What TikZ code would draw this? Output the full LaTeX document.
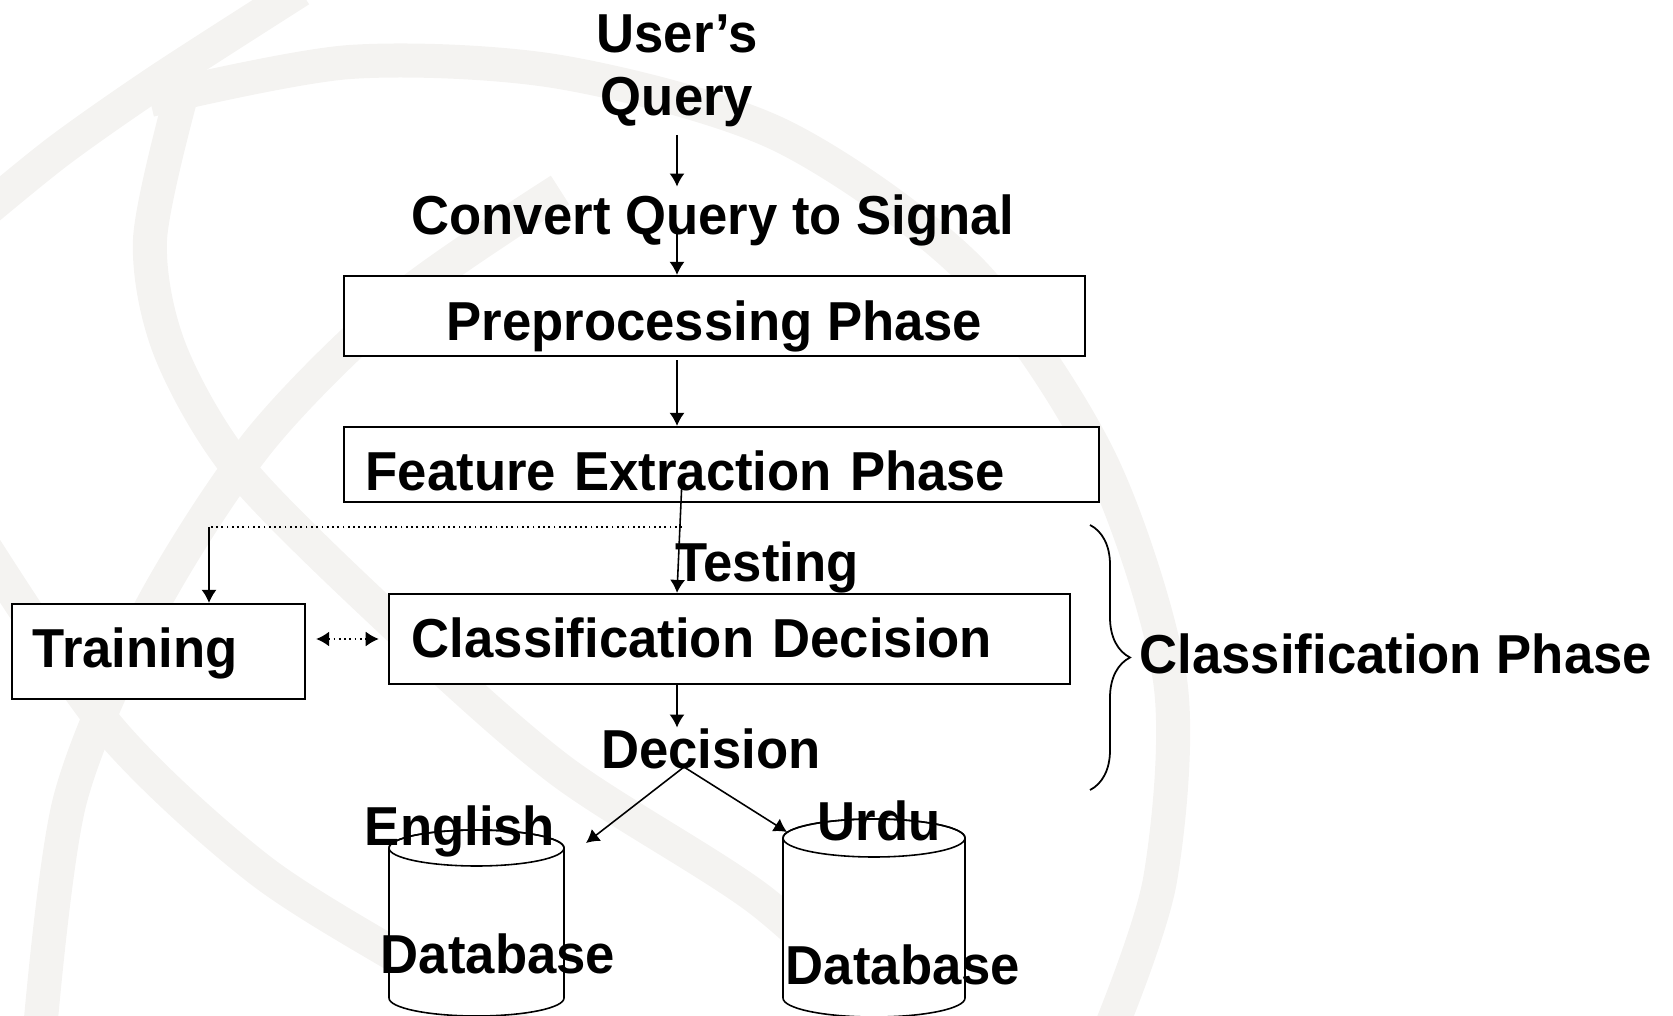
\documentclass[tikz,border=0pt]{standalone}
\usepackage{fontspec}
\setmainfont{Liberation Sans}[FakeStretch=0.96]
\usepackage{tikz}
\usetikzlibrary{arrows.meta, positioning, calc, decorations.pathreplacing}
\definecolor{globegray}{RGB}{244,243,241}

\tikzset{
    globe/.style={draw=globegray, line width=0.34cm},
    phasebox/.style={draw, fill=white, line width=0.6pt, inner sep=0pt, text depth=0pt},
    lbl/.style={inner sep=0pt},
    flowarrow/.style={->, line width=0.45pt},
    linkarrow/.style={<->, densely dotted, line width=0.5pt},
    dbcyl/.style={fill=white, line width=0.45pt},
}

\begin{document}
\begin{tikzpicture}[x=0.01cm, y=-0.01cm, >={Latex[length=1.3mm, width=1.5mm]},
    font=\fontsize{15.6}{18}\selectfont\bfseries]
    \useasboundingbox (0,0) rectangle (1673,1016);
    \clip (0,0) rectangle (1673,1016);

    % faint globe in the background
    \draw[globe] plot[smooth] coordinates {(-20,215) (60,150) (160,80) (300,-10)};
    \draw[globe] plot[smooth] coordinates {(150,100) (350,62) (560,72) (780,135) (970,270) (1100,460) (1170,680) (1160,880) (1110,1030)};
    \draw[globe] plot[smooth] coordinates {(180,100) (150,240) (170,350) (240,470) (390,620) (560,770) (760,900) (900,1030)};
    \draw[globe] plot[smooth] coordinates {(560,190) (400,300) (260,440) (150,610) (70,800) (40,1030)};
    \draw[globe] plot[smooth] coordinates {(-20,540) (110,730) (260,870) (420,970) (520,1030)};

    % databases
    \filldraw[dbcyl] (389,848) -- (389,998) arc[start angle=180, end angle=0, x radius=87.5, y radius=18]
        -- (564,848) arc[start angle=0, end angle=-180, x radius=87.5, y radius=18] -- cycle;
    \draw[line width=0.45pt] (476.5,848) ellipse [x radius=87.5, y radius=18];
    \filldraw[dbcyl] (783,838) -- (783,998) arc[start angle=180, end angle=0, x radius=91, y radius=19]
        -- (965,838) arc[start angle=0, end angle=-180, x radius=91, y radius=19] -- cycle;
    \draw[line width=0.45pt] (874,838) ellipse [x radius=91, y radius=19];

    \node[lbl, anchor=north, align=center] (query) at (677,14) {User’s\\Query};
    \node[lbl, anchor=base] (convert) at (713,235) {Convert Query to Signal};
    \node[phasebox, minimum width=7.41cm, minimum height=0.80cm, text height=0.48cm] (prep) at (714.5,316) {Preprocessing Phase};
    \node[phasebox, minimum width=7.55cm, minimum height=0.75cm, text width=7.11cm, text height=0.51cm, align=left] (feat) at (721.5,464.5) {Feature Extraction Phase};
    \node[lbl, anchor=base] (testing) at (767,581) {Testing};
    \node[phasebox, minimum width=6.81cm, minimum height=0.90cm, text width=6.35cm, text height=0.36cm, align=left] (classdec) at (729.5,639) {Classification Decision};
    \node[phasebox, minimum width=2.93cm, minimum height=0.95cm, text width=2.51cm, text height=0.31cm, align=left] (train) at (158.5,651.5) {Training};
    \node[lbl, anchor=base] (decision) at (711,768) {Decision};
    \node[lbl, anchor=base] (english) at (460,845) {English};
    \node[lbl, anchor=base] (urdu) at (879,840) {Urdu};
    \node[lbl, anchor=base] (engdb) at (498,973) {Database};
    \node[lbl, anchor=base] (urdudb) at (903,984) {Database};
    \node[lbl, anchor=base west] (classphase) at (1139,673) {Classification Phase};

    \coordinate (split) at (682,527);
    \coordinate (trainturn) at (209,527);
    \coordinate (fork) at (684,767);
    \coordinate (engtip) at (586,843);
    \coordinate (urdutip) at (787,832);

    \draw[flowarrow] ($(query.south)+(0,7)$) -- ($(convert.north -| query)+(0,-8)$);
    \draw[flowarrow] ($(convert.base -| query)+(0,-7)$) -- (prep.north -| query);
    \draw[flowarrow] ($(prep.south -| query)+(0,3)$) -- (feat.north -| query);
    \draw[flowarrow] ($(feat.center -| split)+(0,15)$) -- (classdec.north -| query);
    \draw[densely dotted, line width=0.5pt] (split) -- (trainturn);
    \draw[flowarrow] (trainturn) -- (train.north -| trainturn);
    \draw[linkarrow, shorten <=0.1cm, shorten >=0.09cm] (train.east |- classdec.west) -- (classdec.west);
    \draw[flowarrow] (classdec.south -| query) -- (decision.north -| query);
    \draw[flowarrow] (fork) -- (engtip);
    \draw[flowarrow] (fork) -- (urdutip);

    \draw[decorate, decoration={brace, amplitude=0.4cm}, line width=0.5pt] (1090,525) -- (1090,790);
\end{tikzpicture}
\end{document}
